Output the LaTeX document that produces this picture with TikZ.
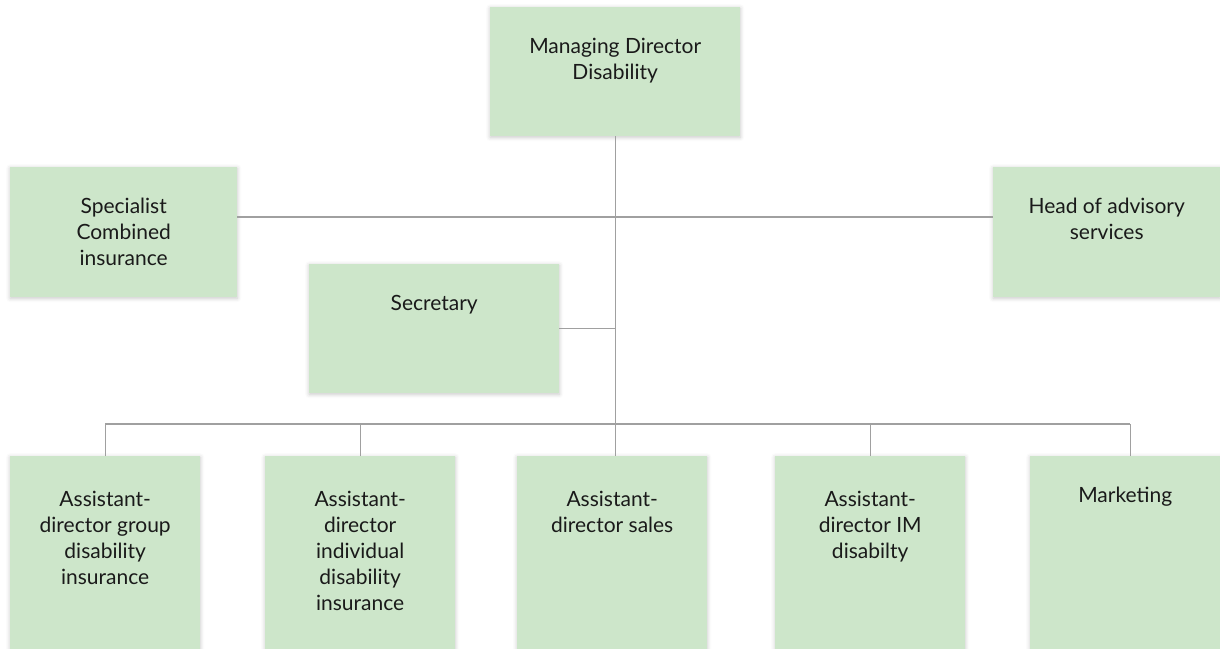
\documentclass[tikz,border=0pt]{standalone}
\usepackage{fontspec}
\setmainfont{Lato}
\usetikzlibrary{shadows.blur}
\definecolor{boxfill}{HTML}{CDE6CA}
\definecolor{linegray}{HTML}{A0A0A0}
\definecolor{txt}{HTML}{1A1A1A}
\tikzset{
  box/.style={rectangle, fill=boxfill, draw=none, anchor=north west, inner sep=0pt,
    blur shadow={shadow xshift=0pt, shadow yshift=-1pt, shadow blur radius=4pt, shadow opacity=22}},
  lbl/.style={anchor=north, yshift=-31pt, align=center, inner sep=0pt, text=txt,
    font=\fontsize{21}{26}\selectfont},
  conn/.style={draw=linegray, line width=1.4pt}
}
\begin{document}
\begin{tikzpicture}[x=1pt, y=-1pt]
\useasboundingbox (0,0) rectangle (1220,648);
% boxes
\node[box, minimum width=250pt, minimum height=129pt, label={[lbl]north:Managing Director\\Disability}] (md) at (490,7) {};
\node[box, minimum width=227pt, minimum height=130pt, label={[lbl]north:Specialist\\Combined\\insurance}] (spec) at (10,167) {};
\node[box, minimum width=227pt, minimum height=130pt, label={[lbl]north:Head of advisory\\services}] (head) at (993,167) {};
\node[box, minimum width=250pt, minimum height=129pt, label={[lbl]north:Secretary}] (sec) at (309,264) {};
\node[box, minimum width=190pt, minimum height=200pt, label={[lbl, yshift=-4pt]north:Assistant-\\director group\\disability\\insurance}] (b1) at (10,456) {};
\node[box, minimum width=190pt, minimum height=200pt, label={[lbl, yshift=-4pt]north:Assistant-\\director\\individual\\disability\\insurance}] (b2) at (265,456) {};
\node[box, minimum width=190pt, minimum height=200pt, label={[lbl, yshift=-4pt]north:Assistant-\\director sales}] (b3) at (517,456) {};
\node[box, minimum width=190pt, minimum height=200pt, label={[lbl, yshift=-4pt]north:Assistant-\\director IM\\disabilty}] (b4) at (775,456) {};
\node[box, minimum width=190pt, minimum height=200pt, label={[lbl]north:Marketing}] (b5) at (1030,456) {};
% connector helpers
\coordinate (hl) at (615,217);
\coordinate (bus) at (615,424);
% connectors
\draw[conn] (md.south) -- (md.south |- b3.north);
\draw[conn] (spec.east |- hl) -- (head.west |- hl);
\draw[conn] (sec.east) -- (sec.east -| md.south);
\draw[conn] (b1.north |- bus) -- ([xshift=5pt]b5.north |- bus);
\draw[conn] (b1.north) -- (b1.north |- bus);
\draw[conn] (b2.north) -- (b2.north |- bus);
\draw[conn] (b4.north) -- (b4.north |- bus);
\draw[conn] ([xshift=5pt]b5.north) -- ([xshift=5pt]b5.north |- bus);
\end{tikzpicture}
\end{document}
